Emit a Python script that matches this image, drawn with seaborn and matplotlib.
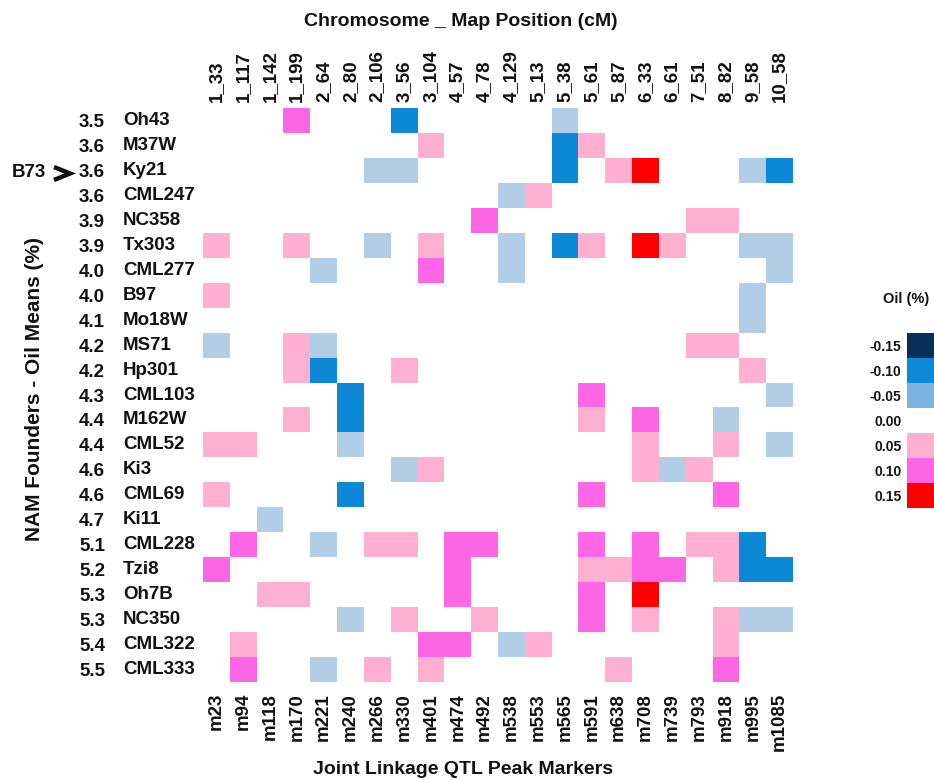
import numpy as np
import pandas as pd
import matplotlib
matplotlib.use("Agg")
import matplotlib.pyplot as plt
from matplotlib.colors import ListedColormap, Normalize
from matplotlib.cm import ScalarMappable
from matplotlib.lines import Line2D
import matplotlib.transforms as mtransforms
import seaborn as sns

# ---------------- data ----------------
founders = ["Oh43", "M37W", "Ky21", "CML247", "NC358", "Tx303", "CML277", "B97",
            "Mo18W", "MS71", "Hp301", "CML103", "M162W", "CML52", "Ki3", "CML69",
            "Ki11", "CML228", "Tzi8", "Oh7B", "NC350", "CML322", "CML333"]
oil_means = [3.5, 3.6, 3.6, 3.6, 3.9, 3.9, 4.0, 4.0, 4.1, 4.2, 4.2, 4.3, 4.4,
             4.4, 4.6, 4.6, 4.7, 5.1, 5.2, 5.3, 5.3, 5.4, 5.5]
markers = ["m23", "m94", "m118", "m170", "m221", "m240", "m266", "m330", "m401",
           "m474", "m492", "m538", "m553", "m565", "m591", "m638", "m708", "m739",
           "m793", "m918", "m995", "m1085"]
map_positions = ["1_33", "1_117", "1_142", "1_199", "2_64", "2_80", "2_106", "3_56",
                 "3_104", "4_57", "4_78", "4_129", "5_13", "5_38", "5_61", "5_87",
                 "6_33", "6_61", "7_51", "8_82", "9_58", "10_58"]

# allele effects on oil (%) per founder (rows) x marker (columns)
effects = [
    [0, 0, 0, .10, 0, 0, 0, -.10, 0, 0, 0, 0, 0, -.05, 0, 0, 0, 0, 0, 0, 0, 0],          # Oh43
    [0, 0, 0, 0, 0, 0, 0, 0, .05, 0, 0, 0, 0, -.10, .05, 0, 0, 0, 0, 0, 0, 0],           # M37W
    [0, 0, 0, 0, 0, 0, -.05, -.05, 0, 0, 0, 0, 0, -.10, 0, .05, .15, 0, 0, 0, -.05, -.10],  # Ky21
    [0, 0, 0, 0, 0, 0, 0, 0, 0, 0, 0, -.05, .05, 0, 0, 0, 0, 0, 0, 0, 0, 0],            # CML247
    [0, 0, 0, 0, 0, 0, 0, 0, 0, 0, .10, 0, 0, 0, 0, 0, 0, 0, .05, .05, 0, 0],           # NC358
    [.05, 0, 0, .05, 0, 0, -.05, 0, .05, 0, 0, -.05, 0, -.10, .05, 0, .15, .05, 0, 0, -.05, -.05],  # Tx303
    [0, 0, 0, 0, -.05, 0, 0, 0, .10, 0, 0, -.05, 0, 0, 0, 0, 0, 0, 0, 0, 0, -.05],      # CML277
    [.05, 0, 0, 0, 0, 0, 0, 0, 0, 0, 0, 0, 0, 0, 0, 0, 0, 0, 0, 0, -.05, 0],            # B97
    [0, 0, 0, 0, 0, 0, 0, 0, 0, 0, 0, 0, 0, 0, 0, 0, 0, 0, 0, 0, -.05, 0],              # Mo18W
    [-.05, 0, 0, .05, -.05, 0, 0, 0, 0, 0, 0, 0, 0, 0, 0, 0, 0, 0, .05, .05, 0, 0],      # MS71
    [0, 0, 0, .05, -.10, 0, 0, .05, 0, 0, 0, 0, 0, 0, 0, 0, 0, 0, 0, 0, .05, 0],         # Hp301
    [0, 0, 0, 0, 0, -.10, 0, 0, 0, 0, 0, 0, 0, 0, .10, 0, 0, 0, 0, 0, 0, -.05],          # CML103
    [0, 0, 0, .05, 0, -.10, 0, 0, 0, 0, 0, 0, 0, 0, .05, 0, .10, 0, 0, -.05, 0, 0],      # M162W
    [.05, .05, 0, 0, 0, -.05, 0, 0, 0, 0, 0, 0, 0, 0, 0, 0, .05, 0, 0, .05, 0, -.05],    # CML52
    [0, 0, 0, 0, 0, 0, 0, -.05, .05, 0, 0, 0, 0, 0, 0, 0, .05, -.05, .05, 0, 0, 0],      # Ki3
    [.05, 0, 0, 0, 0, -.10, 0, 0, 0, 0, 0, 0, 0, 0, .10, 0, 0, 0, 0, .10, 0, 0],         # CML69
    [0, 0, -.05, 0, 0, 0, 0, 0, 0, 0, 0, 0, 0, 0, 0, 0, 0, 0, 0, 0, 0, 0],              # Ki11
    [0, .10, 0, 0, -.05, 0, .05, .05, 0, .10, .10, 0, 0, 0, .10, 0, .10, 0, .05, .05, -.10, 0],  # CML228
    [.10, 0, 0, 0, 0, 0, 0, 0, 0, .10, 0, 0, 0, 0, .05, .05, .10, .10, 0, .05, -.10, -.10],  # Tzi8
    [0, 0, .05, .05, 0, 0, 0, 0, 0, .10, 0, 0, 0, 0, .10, 0, .15, 0, 0, 0, 0, 0],         # Oh7B
    [0, 0, 0, 0, 0, -.05, 0, .05, 0, 0, .05, 0, 0, 0, .10, 0, .05, 0, 0, .05, -.05, -.05],  # NC350
    [0, .05, 0, 0, 0, 0, 0, 0, .10, .10, 0, -.05, .05, 0, 0, 0, 0, 0, 0, .05, 0, 0],     # CML322
    [0, .10, 0, 0, -.05, 0, .05, 0, .05, 0, 0, 0, 0, 0, 0, .05, 0, 0, 0, .10, 0, 0],     # CML333
]

effect_levels = [-0.15, -0.10, -0.05, 0.00, 0.05, 0.10, 0.15]
cell_colors = ["#06305a", "#0b89d6", "#b2cde6", "#ffffff", "#ffb0d0", "#ff66e5", "#ff0000"]
legend_colors = ["#06305a", "#0d8ad8", "#7db4e2", "#ffffff", "#ffb0d0", "#ff66e5", "#ff0000"]

# ---------------- style ----------------
sns.set_style("white")
plt.rcParams["font.family"] = ["Liberation Sans", "DejaVu Sans"]
plt.rcParams["font.weight"] = "bold"

W, H = 934, 780
fig = plt.figure(figsize=(W / 100, H / 100), dpi=100)
fig.patch.set_facecolor("white")

x0, x1, y0, y1 = 203, 793, 108, 682
ax = fig.add_axes([x0 / W, 1 - y1 / H, (x1 - x0) / W, (y1 - y0) / H])

df = pd.DataFrame(effects, index=founders, columns=markers)
step = 0.05
sns.heatmap(df, ax=ax, cmap=ListedColormap(cell_colors),
            vmin=effect_levels[0] - step / 2, vmax=effect_levels[-1] + step / 2,
            cbar=False, linewidths=0)

FS = 13.5
TXT = "#111111"
# bottom tick labels (markers)
ax.set_xticks(np.arange(len(markers)) + 0.5)
ax.set_xticklabels(markers, rotation=90, fontsize=FS, fontweight="bold", color=TXT)
ax.tick_params(axis="x", length=0, pad=8)

# left tick labels (founder names), left-aligned
ax.set_yticks(np.arange(len(founders)) + 0.5)
ax.set_yticklabels(founders, rotation=0, fontsize=FS, fontweight="bold", ha="left",
                   color=TXT)
ax.tick_params(axis="y", length=0, pad=(x0 - 123) * 72 / 100)

# oil means column
trans = mtransforms.blended_transform_factory(ax.transAxes, ax.transData)
for i, m in enumerate(oil_means):
    ax.text((105 - x0) / (x1 - x0), i + 0.5, f"{m:.1f}", transform=trans,
            ha="right", va="center_baseline", fontsize=FS, fontweight="bold",
            color=TXT)

# top tick labels (chromosome_map position)
secax = ax.secondary_xaxis("top")
secax.set_xticks(np.arange(len(map_positions)) + 0.5, labels=map_positions,
                 rotation=90, fontsize=FS, fontweight="bold", color=TXT)
secax.tick_params(length=0, pad=4)
for s in secax.spines.values():
    s.set_visible(False)
for s in ax.spines.values():
    s.set_visible(False)

# B73 marker with chevron
ky_y = 1 - (y0 + (founders.index("Ky21") + 0.5) * (y1 - y0) / len(founders)) / H
fig.text(12 / W, ky_y, "B73", ha="left", va="center_baseline", fontsize=FS,
         fontweight="bold", color=TXT)
cy = 173.5
fig.add_artist(Line2D([54 / W, 70 / W, 54 / W],
                      [1 - (cy - 6.5) / H, 1 - cy / H, 1 - (cy + 6.5) / H],
                      transform=fig.transFigure, color=TXT, linewidth=3.2,
                      solid_joinstyle="miter", solid_capstyle="butt"))

# titles
fig.text(461 / W, 1 - 22 / H, "Chromosome _ Map Position (cM)", ha="center",
         va="center", fontsize=14, fontweight="bold", color=TXT)
fig.text(463 / W, 1 - 769 / H, "Joint Linkage QTL Peak Markers", ha="center",
         va="center", fontsize=14, fontweight="bold", color=TXT)
fig.text(35 / W, 1 - 389 / H, "NAM Founders - Oil Means (%)", ha="center",
         va="center", rotation=90, fontsize=15, fontweight="bold", color=TXT)

# discrete legend (colour key)
cax = fig.add_axes([907 / W, 1 - 508 / H, (W - 907) / W, (508 - 333) / H])
sm = ScalarMappable(norm=Normalize(effect_levels[0] - step / 2, effect_levels[-1] + step / 2),
                    cmap=ListedColormap(legend_colors))
cb = fig.colorbar(sm, cax=cax, ticks=effect_levels)
cb.outline.set_visible(False)
cax.invert_yaxis()
cax.yaxis.set_ticks_position("left")
cax.set_yticklabels([f"{v:.2f}" for v in effect_levels], fontsize=10, fontweight="bold",
                    color=TXT)
cax.tick_params(axis="y", length=0, pad=4)
fig.text(906 / W, 1 - 299 / H, "Oil (%)", ha="center", va="center", fontsize=10.5,
         fontweight="bold", color=TXT)

fig.savefig("out.png", dpi=100, facecolor="white")
